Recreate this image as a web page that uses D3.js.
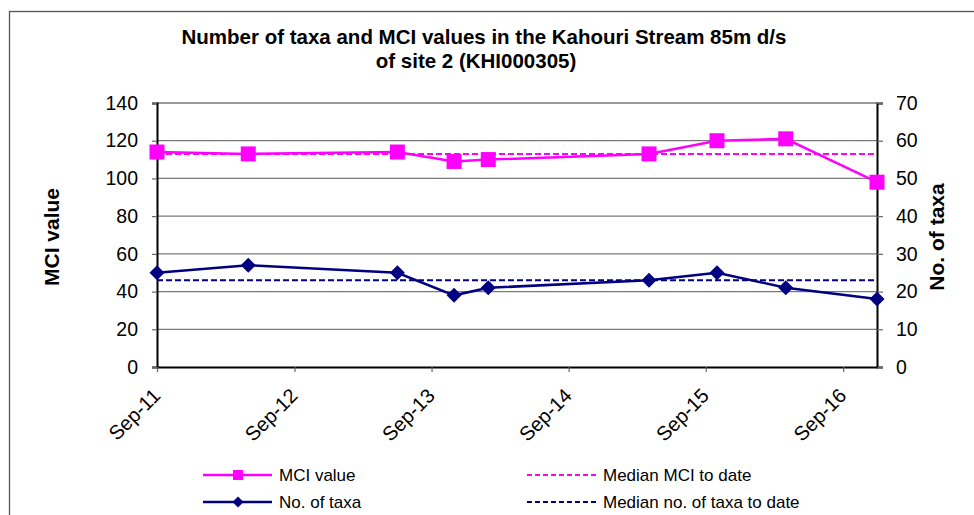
<!DOCTYPE html>
<html>
<head>
<meta charset="utf-8">
<script src="https://cdn.jsdelivr.net/npm/d3@7"></script>
<style>
  body { margin: 0; background: #fff; }
  svg { display: block; font-family: "Liberation Sans", Arial, sans-serif; }
</style>
</head>
<body>
<div id="chart"></div>
<script>

// sample dates and values
var sampleDates = ["2011-09-01", "2012-05-01", "2013-06-02", "2013-10-31", "2014-01-30",
                   "2015-04-03", "2015-10-01", "2016-04-01", "2016-11-30"];
var mciValues  = [114, 113, 114, 109, 110, 113, 120, 121, 98];
var taxaValues = [25, 27, 25, 19, 21, 23, 25, 21, 18];
var medianMci  = 113;
var medianTaxa = 23;
var tickDates  = ["2011-09-01", "2012-09-01", "2013-09-01", "2014-09-01", "2015-09-01", "2016-09-01"];
var mciTicks   = [0, 20, 40, 60, 80, 100, 120, 140];
var taxaTicks  = [0, 10, 20, 30, 40, 50, 60, 70];

var parse = d3.timeParse("%Y-%m-%d");

var data = sampleDates.map(function(d, i) {
  return {date: parse(d), mci: mciValues[i], taxa: taxaValues[i]};
});

// set the dimensions and margins of the graph
var margin = {top: 103, right: 97, bottom: 148, left: 157},
    W = 974, H = 515,
    width  = W - margin.left - margin.right,
    height = H - margin.top - margin.bottom;

var svg0 = d3.select("#chart").append("svg")
    .attr("width", W)
    .attr("height", H);

// chart frame
svg0.append("rect")
    .attr("x", 9.5).attr("y", 11.5)
    .attr("width", W + 20).attr("height", H + 20)
    .attr("fill", "none")
    .attr("stroke", "#555")
    .attr("stroke-width", 1.3);

// title
var title = svg0.append("text")
    .attr("text-anchor", "middle")
    .attr("font-weight", "bold")
    .attr("font-size", "20.5px");
title.append("tspan").attr("x", 484).attr("y", 44)
    .text("Number of taxa and MCI values in the Kahouri Stream 85m d/s");
title.append("tspan").attr("x", 476).attr("y", 68)
    .text("of site 2 (KHI000305)");

var svg = svg0.append("g")
    .attr("transform", "translate(" + margin.left + "," + margin.top + ")");

// set the ranges
var x = d3.scaleTime()
    .domain(d3.extent(data, function(d) { return d.date; }))
    .range([0, width]);
var yL = d3.scaleLinear().domain([0, 140]).range([height, 0]);
var yR = d3.scaleLinear().domain([0, 70]).range([height, 0]);

// gridlines
svg.selectAll(".grid")
    .data(mciTicks.slice(1))
  .enter().append("line")
    .attr("class", "grid")
    .attr("x1", 0).attr("x2", width)
    .attr("y1", function(d) { return yL(d); })
    .attr("y2", function(d) { return yL(d); })
    .attr("stroke", "#7a7a7a")
    .attr("stroke-width", 1.3);

// left axis
var gl = svg.append("g")
    .call(d3.axisLeft(yL).tickValues(mciTicks).tickSize(5).tickPadding(14));
// right axis
var gr = svg.append("g")
    .attr("transform", "translate(" + width + ",0)")
    .call(d3.axisRight(yR).tickValues(taxaTicks).tickSize(6).tickPadding(13));
// x axis
var gx = svg.append("g")
    .attr("transform", "translate(0," + height + ")")
    .call(d3.axisBottom(x)
      .tickValues(tickDates.map(parse))
      .tickFormat(d3.timeFormat("%b-%y"))
      .tickSize(5).tickSizeOuter(0));

[gl, gr, gx].forEach(function(g) {
  g.select(".domain").attr("stroke", "#000").attr("stroke-width", 2);
  g.selectAll(".tick line").attr("stroke", "#666").attr("stroke-width", 1.2);
  g.selectAll("text")
    .attr("fill", "#000")
    .style("font-family", "Liberation Sans, Arial, sans-serif")
    .style("font-size", "19.5px");
});

gx.selectAll("text")
    .style("text-anchor", "end")
    .style("font-size", "20px")
    .attr("y", 0)
    .attr("dy", 0)
    .attr("transform", "translate(4,30) rotate(-45)");

// axis titles
svg0.append("text")
    .attr("transform", "translate(59,237) rotate(-90)")
    .attr("text-anchor", "middle")
    .attr("font-weight", "bold")
    .attr("font-size", "21px")
    .text("MCI value");
svg0.append("text")
    .attr("transform", "translate(944,237) rotate(-90)")
    .attr("text-anchor", "middle")
    .attr("font-weight", "bold")
    .attr("font-size", "21px")
    .text("No. of taxa");

var pink = "#ff00ff", navy = "#000080";

// median lines
svg.append("line")
    .attr("x1", 0).attr("x2", width)
    .attr("y1", yL(medianMci)).attr("y2", yL(medianMci))
    .attr("stroke", pink).attr("stroke-width", 2)
    .attr("stroke-dasharray", "6,3");
svg.append("line")
    .attr("x1", 0).attr("x2", width)
    .attr("y1", yR(medianTaxa)).attr("y2", yR(medianTaxa))
    .attr("stroke", navy).attr("stroke-width", 2.2)
    .attr("stroke-dasharray", "6,3");

// MCI line + squares
svg.append("path")
    .datum(data)
    .attr("fill", "none")
    .attr("stroke", pink)
    .attr("stroke-width", 2.5)
    .attr("d", d3.line()
      .x(function(d) { return x(d.date); })
      .y(function(d) { return yL(d.mci); }));
svg.selectAll(".sq")
    .data(data)
  .enter().append("rect")
    .attr("class", "sq")
    .attr("x", function(d) { return x(d.date) - 7.5; })
    .attr("y", function(d) { return yL(d.mci) - 7.5; })
    .attr("width", 15).attr("height", 15)
    .attr("fill", pink);

// taxa line + diamonds
svg.append("path")
    .datum(data)
    .attr("fill", "none")
    .attr("stroke", navy)
    .attr("stroke-width", 2.5)
    .attr("d", d3.line()
      .x(function(d) { return x(d.date); })
      .y(function(d) { return yR(d.taxa); }));
svg.selectAll(".dia")
    .data(data)
  .enter().append("path")
    .attr("class", "dia")
    .attr("transform", function(d) { return "translate(" + x(d.date) + "," + yR(d.taxa) + ")"; })
    .attr("d", "M0,-7.5L7.5,0L0,7.5L-7.5,0Z")
    .attr("fill", navy);

// legend
var legend = [
  {label: "MCI value", color: pink, dash: null, marker: "sq", x: 203, y: 475},
  {label: "No. of taxa", color: navy, dash: null, marker: "dia", x: 203, y: 502},
  {label: "Median MCI to date", color: pink, dash: "5,3", marker: null, x: 527, y: 475},
  {label: "Median no. of taxa to date", color: navy, dash: "5,3", marker: null, x: 527, y: 502}
];
var lg = svg0.selectAll(".lg")
    .data(legend)
  .enter().append("g")
    .attr("transform", function(d) { return "translate(" + d.x + "," + d.y + ")"; });
lg.append("line")
    .attr("x1", 0).attr("x2", 69)
    .attr("stroke", function(d) { return d.color; })
    .attr("stroke-width", function(d) { return d.dash ? 2 : 2.5; })
    .attr("stroke-dasharray", function(d) { return d.dash; });
lg.filter(function(d) { return d.marker == "sq"; }).append("rect")
    .attr("x", 30).attr("y", -5).attr("width", 10).attr("height", 10)
    .attr("fill", pink);
lg.filter(function(d) { return d.marker == "dia"; }).append("path")
    .attr("d", "M35,-5.5L40.5,0L35,5.5L29.5,0Z")
    .attr("fill", navy);
lg.append("text")
    .attr("x", 76)
    .attr("dy", "0.35em")
    .attr("font-size", "17px")
    .text(function(d) { return d.label; });

</script>
</body>
</html>
